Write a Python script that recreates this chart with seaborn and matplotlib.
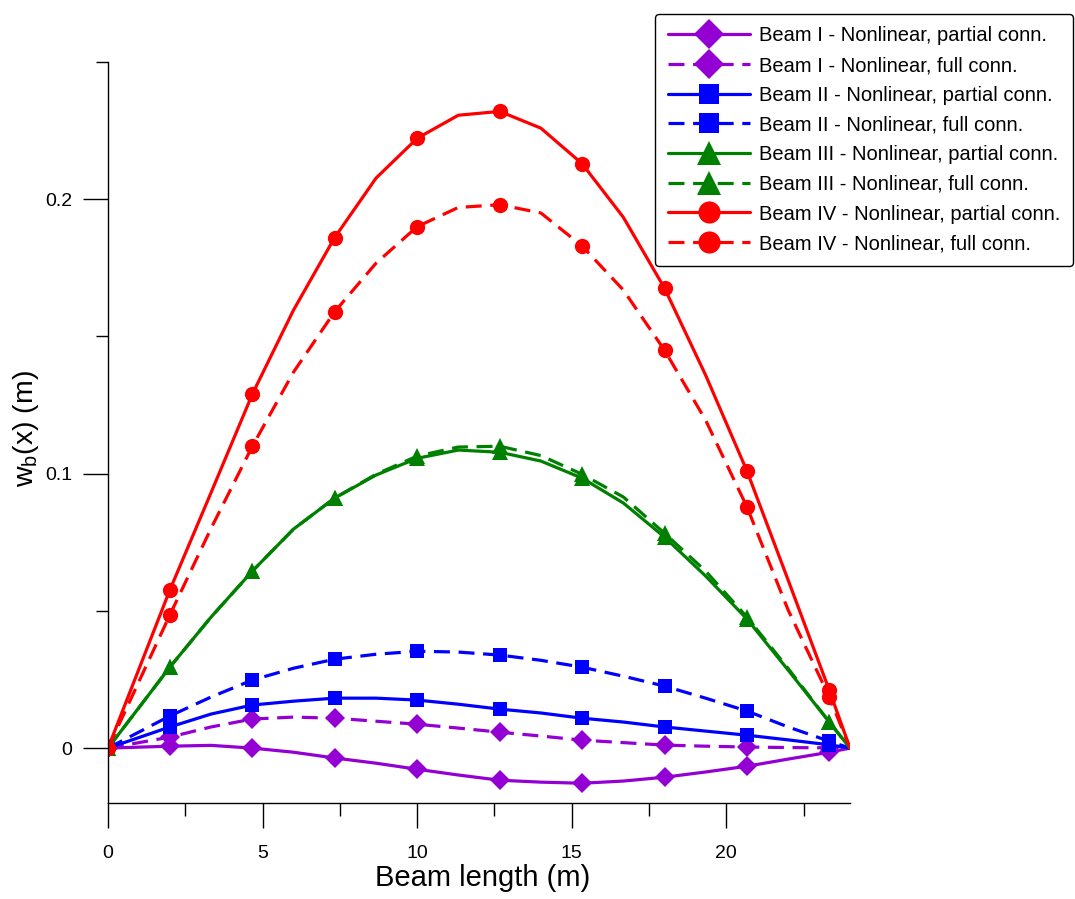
import numpy as np
import pandas as pd
import matplotlib
matplotlib.use("Agg")
import matplotlib.pyplot as plt
from matplotlib.ticker import MultipleLocator
import seaborn as sns

# Positions along the beam (m)
x_pos = [0, 2.0, 3.33, 4.67, 6.0, 7.33, 8.67, 10.0, 11.33, 12.67,
         14.0, 15.33, 16.67, 18.0, 19.33, 20.67, 22.0, 23.33, 24.0]

# Deflection w_b(x) (m) for each beam / connection model
beam1_partial = [0, 0.0007, 0.0010, 0.0000, -0.0015, -0.0036, -0.0055, -0.0077, -0.0098, -0.0117,
                 -0.0124, -0.0128, -0.0120, -0.0106, -0.0087, -0.0066, -0.0040, -0.0015, 0]
beam1_full = [0, 0.0040, 0.0077, 0.0106, 0.0113, 0.0109, 0.0098, 0.0087, 0.0073, 0.0058,
              0.0044, 0.0029, 0.0020, 0.0011, 0.0007, 0.0004, 0.0002, 0.0001, 0]
beam2_partial = [0, 0.0077, 0.0124, 0.0157, 0.0171, 0.0182, 0.0182, 0.0175, 0.0160, 0.0142,
                 0.0128, 0.0109, 0.0095, 0.0077, 0.0062, 0.0047, 0.0030, 0.0012, 0]
beam2_full = [0, 0.0117, 0.0186, 0.0248, 0.0291, 0.0324, 0.0342, 0.0353, 0.0350, 0.0339,
              0.0320, 0.0295, 0.0262, 0.0226, 0.0182, 0.0135, 0.0077, 0.0025, 0]
beam3_partial = [0, 0.0295, 0.0477, 0.0645, 0.0798, 0.0911, 0.0995, 0.1056, 0.1086, 0.1078,
                 0.1046, 0.0984, 0.0893, 0.0769, 0.0627, 0.0470, 0.0284, 0.0095, 0]
beam3_full = [0, 0.0295, 0.0477, 0.0645, 0.0798, 0.0911, 0.0998, 0.1064, 0.1097, 0.1100,
              0.1066, 0.0998, 0.0915, 0.0783, 0.0645, 0.0477, 0.0290, 0.0095, 0]
beam4_partial = [0, 0.0576, 0.0930, 0.1290, 0.1596, 0.1860, 0.2077, 0.2222, 0.2306, 0.2320,
                 0.2259, 0.2130, 0.1934, 0.1676, 0.1359, 0.1009, 0.0612, 0.0211, 0]
beam4_full = [0, 0.0485, 0.0800, 0.1100, 0.1370, 0.1590, 0.1767, 0.1900, 0.1970, 0.1980,
              0.1950, 0.1830, 0.1669, 0.1450, 0.1195, 0.0878, 0.0503, 0.0186, 0]

labels = [
    "Beam I - Nonlinear, partial conn.", "Beam I - Nonlinear, full conn.",
    "Beam II - Nonlinear, partial conn.", "Beam II - Nonlinear, full conn.",
    "Beam III - Nonlinear, partial conn.", "Beam III - Nonlinear, full conn.",
    "Beam IV - Nonlinear, partial conn.", "Beam IV - Nonlinear, full conn.",
]
series = [beam1_partial, beam1_full, beam2_partial, beam2_full,
          beam3_partial, beam3_full, beam4_partial, beam4_full]
colors = ["#9400D3", "#9400D3", "#0000FF", "#0000FF",
          "#008000", "#008000", "#FF0000", "#FF0000"]
markers = ["D", "D", "s", "s", "^", "^", "o", "o"]
msizes = [10.5, 10.5, 9.5, 9.5, 12, 12, 11, 11]
dash = (0, (5, 2.7))
styles = ["-", dash] * 4

# markers on every other interior point
mark_idx = [0, 1, 3, 5, 7, 9, 11, 13, 15, 17]

sns.set_style("ticks")
plt.rcParams["font.family"] = ["Liberation Sans", "DejaVu Sans"]
plt.rcParams["mathtext.fontset"] = "custom"
plt.rcParams["mathtext.rm"] = "Liberation Sans"
plt.rcParams["mathtext.it"] = "Liberation Sans"
for key in ["text.color", "axes.labelcolor", "xtick.color", "ytick.color", "axes.edgecolor"]:
    plt.rcParams[key] = "black"

fig = plt.figure(figsize=(10.75, 8.99), dpi=100)
ax = fig.add_axes([108 / 1075, 1 - 803 / 899, (850 - 108) / 1075, (803 - 62) / 899])

for y, lab, c, m, ms, ls in zip(series, labels, colors, markers, msizes, styles):
    df = pd.DataFrame({"x": x_pos, "w": y})
    sns.lineplot(data=df, x="x", y="w", ax=ax, color=c, linewidth=2.3,
                 linestyle=ls, marker=m, markersize=ms, markevery=mark_idx,
                 markeredgewidth=0, label=lab, sort=False)

ax.set_xlim(0, 24)
ax.set_ylim(-0.02, 0.25)
ax.xaxis.set_major_locator(MultipleLocator(5))
ax.xaxis.set_minor_locator(MultipleLocator(2.5))
ax.yaxis.set_minor_locator(MultipleLocator(0.05))
ax.set_yticks([0, 0.1, 0.2])
ax.set_yticklabels(["0", "0.1", "0.2"])

for s in ["top", "right"]:
    ax.spines[s].set_visible(False)
for s in ["left", "bottom"]:
    ax.spines[s].set_linewidth(1.0)
    ax.spines[s].set_color("black")

ax.tick_params(axis="both", which="major", direction="out", length=18, width=1.0,
               labelsize=14, color="black", labelcolor="black")
ax.tick_params(axis="both", which="minor", direction="out", length=9, width=1.0,
               color="black")
ax.tick_params(axis="x", which="major", pad=12)
ax.tick_params(axis="y", which="major", pad=8)

ax.set_xlabel("Beam length (m)", fontsize=21)
ax.xaxis.set_label_coords(0.505, -0.082)
ax.xaxis.label.set_va("top")
ax.set_ylabel(r"w$_{\mathrm{b}}$(x) (m)", fontsize=20.5)
ax.yaxis.set_label_coords(-0.09, 0.505)

leg = ax.legend(loc="upper right", bbox_to_anchor=(1073 / 1075, 1 - 14 / 899),
                bbox_transform=fig.transFigure, borderaxespad=0,
                fontsize=14.5, handlelength=4.1, markerscale=1.45,
                labelspacing=0.53, frameon=True, fancybox=True,
                edgecolor="black", framealpha=1, borderpad=0.62, handletextpad=0.45)
leg.get_frame().set_linewidth(1.0)

fig.savefig("out.png", dpi=100, facecolor="white")
